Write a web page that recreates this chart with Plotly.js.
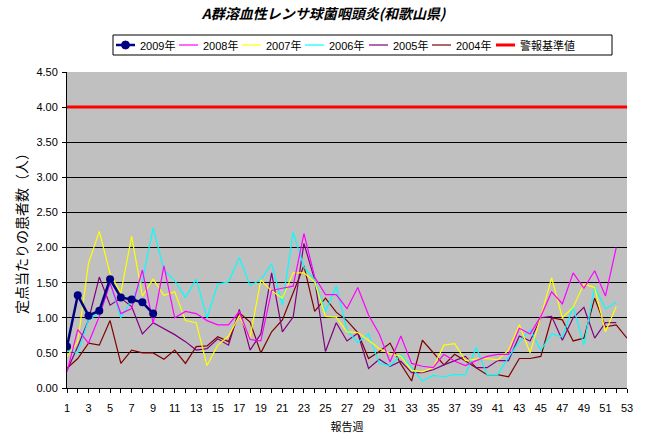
<!DOCTYPE html>
<html><head><meta charset="utf-8">
<script src="https://cdn.plot.ly/plotly-3.0.1.min.js"></script>
<style>html,body{margin:0;padding:0;background:#fff;}#chart{width:647px;height:436px;}</style>
</head><body><div id="chart"></div>
<script>
const weeks = [1,2,3,4,5,6,7,8,9,10,11,12,13,14,15,16,17,18,19,20,21,22,23,24,25,26,27,28,29,30,31,32,33,34,35,36,37,38,39,40,41,42,43,44,45,46,47,48,49,50,51,52,53];
const y2009 = [0.59,1.32,1.03,1.10,1.55,1.29,1.26,1.22,1.06];
const y2008 = [0.23,0.83,0.64,1.02,1.49,1.06,1.13,1.68,0.92,1.74,1.00,1.09,1.06,0.96,0.90,0.90,1.09,0.69,0.67,1.39,1.42,1.45,2.20,1.58,1.33,1.33,1.13,1.43,1.04,0.77,0.37,0.74,0.35,0.31,0.29,0.48,0.38,0.32,0.39,0.45,0.48,0.48,0.85,0.77,1.02,1.37,1.20,1.64,1.42,1.67,1.31,2.00];
const y2007 = [0.45,0.66,1.78,2.23,1.63,1.35,2.16,1.31,1.55,1.32,1.37,0.96,0.93,0.32,0.61,0.74,1.03,0.72,1.54,1.38,1.28,1.64,1.64,1.51,1.02,1.01,0.80,0.79,0.68,0.56,0.49,0.45,0.25,0.23,0.29,0.61,0.63,0.39,0.41,0.42,0.40,0.54,0.90,0.50,1.02,1.57,1.00,1.15,1.48,1.43,0.80,1.16];
const y2006 = [0.54,0.50,0.97,1.07,1.51,1.00,1.25,1.54,2.28,1.68,1.53,1.29,1.55,1.00,1.48,1.51,1.86,1.46,1.54,1.77,1.18,2.22,1.72,1.54,1.09,1.45,0.82,0.65,0.77,0.35,0.32,0.47,0.29,0.10,0.18,0.16,0.19,0.19,0.58,0.19,0.19,0.44,0.66,0.83,0.54,0.77,0.73,1.16,0.61,1.44,1.13,1.22];
const y2005 = [0.25,0.59,0.97,1.58,1.18,1.28,1.16,0.77,0.93,0.85,0.76,0.66,0.54,0.56,0.70,0.61,1.12,0.54,0.77,1.64,0.80,1.01,2.06,1.54,0.52,0.93,0.67,0.78,0.28,0.41,0.31,0.38,0.22,0.22,0.26,0.33,0.39,0.45,0.29,0.29,0.39,0.39,0.74,0.67,1.00,1.02,0.68,1.00,1.15,0.71,0.93,0.93];
const y2004 = [0.28,0.42,0.64,0.61,0.96,0.35,0.54,0.50,0.50,0.41,0.54,0.35,0.59,0.60,0.73,0.66,1.07,0.94,0.50,0.80,0.97,1.35,1.74,1.09,1.28,1.08,0.96,0.79,0.42,0.52,0.64,0.34,0.10,0.68,0.50,0.33,0.48,0.38,0.29,0.19,0.19,0.16,0.42,0.42,0.45,1.00,0.97,0.67,0.71,1.28,0.87,0.90,0.71];
const alertLevel = 4.0;
const alertWeeks = [1,53];
const seriesNames = ['2009年','2008年','2007年','2006年','2005年','2004年','警報基準値'];
const seriesColors = ['#000080','#FF00FF','#FFFF00','#00FFFF','#800080','#800000','#FF0000'];
const yTicks = [0,0.5,1,1.5,2,2.5,3,3.5,4,4.5];

// plot area in pixels
const PL = 67, PR = 627, PT = 72, PB = 388;
const px = v => (v - PL) / (PR - PL);
const py = v => (PB - v) / (PB - PT);

function line(i, y, width){
  return {x: weeks.slice(0,y.length), y: y, name: seriesNames[i], type:'scatter', mode:'lines',
    line:{color:seriesColors[i], width:width}, hoverinfo:'skip', showlegend:false};
}
const traces = [
  line(5, y2004, 1.2),
  line(4, y2005, 1.2),
  line(3, y2006, 1.2),
  line(2, y2007, 1.2),
  line(1, y2008, 1.2),
  {x: alertWeeks, y: alertWeeks.map(()=>alertLevel), name: seriesNames[6], type:'scatter', mode:'lines',
    line:{color:seriesColors[6], width:3}, hoverinfo:'skip', showlegend:false},
  {x: weeks.slice(0,y2009.length), y: y2009, name: seriesNames[0], type:'scatter', mode:'lines+markers',
    line:{color:seriesColors[0], width:2.5}, marker:{color:seriesColors[0], size:8}, hoverinfo:'skip', showlegend:false}
];

const fam = 'Liberation Sans, Arial, Noto Sans CJK JP, sans-serif';
// custom legend (box, line samples, labels)
const textStarts = [138, 201, 264, 327, 391, 454, 518];
const LY = 45;
const shapes = [{type:'rect', xref:'paper', yref:'paper', x0:px(113), x1:px(612), y0:py(55), y1:py(35),
  line:{color:'#000', width:1}, fillcolor:'#FFFFFF', layer:'above'}];
const annotations = [];
seriesNames.forEach((n,i)=>{
  const x1 = textStarts[i] - 3, x0 = textStarts[i] - 22;
  shapes.push({type:'line', xref:'paper', yref:'paper', x0:px(x0), x1:px(x1), y0:py(LY), y1:py(LY),
    line:{color:seriesColors[i], width: i===6 ? 3 : (i===0 ? 2.5 : 1.2)}, layer:'above'});
  if(i===0){
    const cx = (x0+x1)/2;
    shapes.push({type:'circle', xref:'paper', yref:'paper', x0:px(cx-4), x1:px(cx+4), y0:py(LY+4), y1:py(LY-4),
      line:{color:seriesColors[0], width:1}, fillcolor:seriesColors[0], layer:'above'});
  }
  annotations.push({xref:'paper', yref:'paper', x:px(textStarts[i]), y:py(LY), xanchor:'left', yanchor:'middle',
    text:n, showarrow:false, font:{family:fam, size:11, color:'#000'}});
});

const layout = {
  width:647, height:436,
  margin:{l:PL, r:647-PR, t:PT, b:436-PB},
  paper_bgcolor:'#FFFFFF', plot_bgcolor:'#C0C0C0',
  font:{family:fam, size:11, color:'#000'},
  title:{text:'<b><i>A群溶血性レンサ球菌咽頭炎(和歌山県)</i></b>', x:0.5, xanchor:'center', y:0.967, yanchor:'middle',
    font:{family:'Noto Sans CJK JP, sans-serif', size:14, color:'#000'}},
  showlegend:false,
  shapes: shapes,
  annotations: annotations,
  xaxis:{range:[1,53], tickmode:'linear', tick0:1, dtick:2, showgrid:false, zeroline:false,
    showline:true, linecolor:'#000', linewidth:1, ticks:'outside', ticklen:4, tickcolor:'#000',
    minor:{dtick:1, tick0:1, ticks:'outside', ticklen:4, tickcolor:'#000', showgrid:false},
    tickfont:{family:fam, size:11}, ticklabelstandoff:6, fixedrange:true,
    title:{text:'報告週', font:{family:'Noto Sans CJK JP, sans-serif', size:11}, standoff:10}},
  yaxis:{range:[0,4.5], tickmode:'array', tickvals:yTicks, tickformat:'.2f',
    showgrid:true, gridcolor:'#000', gridwidth:1, zeroline:false,
    showline:true, linecolor:'#000', linewidth:1, ticks:'outside', ticklen:4, tickcolor:'#000',
    tickfont:{family:fam, size:11}, ticklabelstandoff:2, fixedrange:true,
    title:{text:'定点当たりの患者数（人）', font:{family:'Noto Sans CJK JP, sans-serif', size:14}, standoff:5}}
};
Plotly.newPlot('chart', traces, layout, {staticPlot:true, displayModeBar:false});
</script></body></html>
